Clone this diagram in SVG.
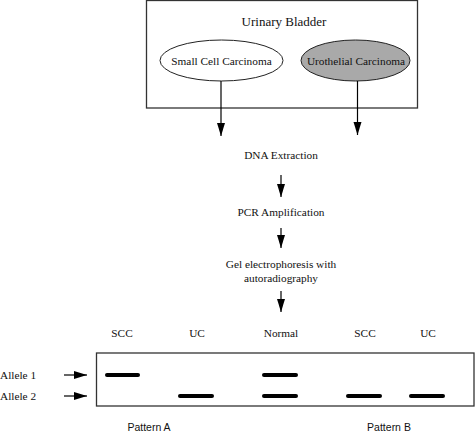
<svg xmlns="http://www.w3.org/2000/svg" width="475" height="433" viewBox="0 0 475 433">
<defs>
<style>
.t{font-family:"Liberation Serif","Times New Roman",serif;font-size:11.3px;fill:#111;text-anchor:middle}
.s{font-family:"Liberation Sans",Arial,sans-serif;font-size:10.5px;fill:#111;text-anchor:middle}
.box{fill:none;stroke:#333;stroke-width:1.3}
.band{stroke:#000;stroke-width:4;stroke-linecap:round}
</style>
</defs>
<rect width="475" height="433" fill="#fff"/>
<g id="bladder">
<rect class="box" x="146.5" y="0.5" width="271" height="107.5"/>
<text class="t" x="284" y="26" style="font-size:13px">Urinary Bladder</text>
</g>
<g id="scc">
<ellipse cx="221.5" cy="60.5" rx="61.5" ry="20.5" fill="#fff" stroke="#222" stroke-width="1"/>
<text class="t" x="221.5" y="65">Small Cell Carcinoma</text>
</g>
<g id="uc">
<ellipse cx="355.5" cy="60.5" rx="54.5" ry="20.5" fill="#a9a9a9" stroke="#222" stroke-width="1"/>
<text class="t" x="356" y="65">Urothelial Carcinoma</text>
</g>
<g id="dna"><text class="t" x="281" y="159">DNA Extraction</text></g>
<g id="pcr"><text class="t" x="281" y="216">PCR Amplification</text></g>
<g id="gel-step"><text class="t" x="281" y="268">Gel electrophoresis with</text><text class="t" x="281" y="282">autoradiography</text></g>
<g id="connectors">
<path d="M221,81 V136" stroke="#000" stroke-width="1.2" fill="none"/>
<path d="M221,136 l-4,-13 h8 z" fill="#000"/>
<path d="M357.5,81 V135" stroke="#000" stroke-width="1.2" fill="none"/>
<path d="M357.5,135 l-4,-13 h8 z" fill="#000"/>
<path d="M281,175 V197" stroke="#000" stroke-width="1.2"/>
<path d="M281,197 l-4,-13 h8 z" fill="#000"/>
<path d="M281,228 V248" stroke="#000" stroke-width="1.2"/>
<path d="M281,248 l-4,-13 h8 z" fill="#000"/>
<path d="M281,291 V312" stroke="#000" stroke-width="1.2"/>
<path d="M281,312 l-4,-13 h8 z" fill="#000"/>
<path d="M64,375 H87" stroke="#000" stroke-width="1.2"/>
<path d="M87,375 l-13,-4 v8 z" fill="#000"/>
<path d="M64,396 H87" stroke="#000" stroke-width="1.2"/>
<path d="M87,396 l-13,-4 v8 z" fill="#000"/>
</g>
<g id="gel">
<rect class="box" x="96.5" y="353" width="377.5" height="53"/>
<text class="t" x="122" y="337">SCC</text>
<text class="t" x="197" y="337">UC</text>
<text class="t" x="281" y="337">Normal</text>
<text class="t" x="365" y="337">SCC</text>
<text class="t" x="428" y="337">UC</text>
<line class="band" x1="107" y1="375" x2="138" y2="375"/>
<line class="band" x1="180" y1="396" x2="212" y2="396"/>
<line class="band" x1="264" y1="375" x2="296" y2="375"/>
<line class="band" x1="264" y1="396" x2="296" y2="396"/>
<line class="band" x1="348" y1="396" x2="380" y2="396"/>
<line class="band" x1="411" y1="396" x2="443" y2="396"/>
</g>
<g id="alleles">
<text class="t" x="0" y="379" style="text-anchor:start">Allele 1</text>
<text class="t" x="0" y="400" style="text-anchor:start">Allele 2</text>
</g>
<g id="patterns">
<text class="s" x="149" y="431">Pattern A</text>
<text class="s" x="389" y="431">Pattern B</text>
</g>
</svg>
